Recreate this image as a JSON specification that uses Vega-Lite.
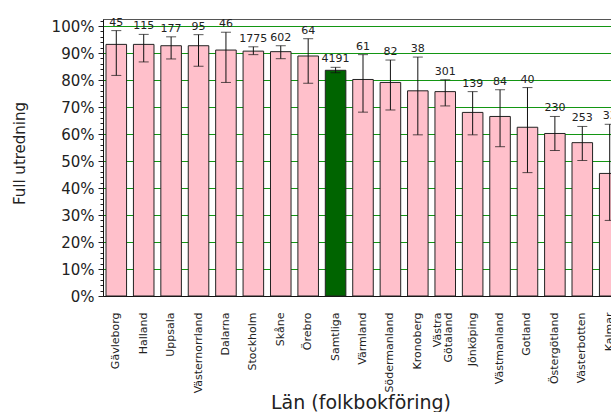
{
  "$schema": "https://vega.github.io/schema/vega-lite/v6.json",
  "autosize": {"type": "none"},
  "padding": {"left": 103, "top": 19, "right": 0, "bottom": 116},
  "width": 520,
  "height": 277,
  "background": "white",
  "config": {"font": "DejaVu Sans", "view": {"stroke": "#555", "strokeWidth": 1}, "axis": {"labelOverlap": false}},
  "resolve": {"axis": {"y": "independent"}},
  "data": {"values": [
    {"lan": "Gävleborg", "grp": "lan", "pct": 93.2, "lo": 81.7, "hi": 98.3, "n": 45},
    {"lan": "Halland", "grp": "lan", "pct": 93.2, "lo": 86.7, "hi": 96.9, "n": 115},
    {"lan": "Uppsala", "grp": "lan", "pct": 92.7, "lo": 87.8, "hi": 96.0, "n": 177},
    {"lan": "Västernorrland", "grp": "lan", "pct": 92.7, "lo": 85.1, "hi": 96.8, "n": 95},
    {"lan": "Dalarna", "grp": "lan", "pct": 91.1, "lo": 79.1, "hi": 97.7, "n": 46},
    {"lan": "Stockholm", "grp": "lan", "pct": 90.7, "lo": 89.4, "hi": 92.3, "n": 1775},
    {"lan": "Skåne", "grp": "lan", "pct": 90.5, "lo": 87.9, "hi": 92.7, "n": 602},
    {"lan": "Örebro", "grp": "lan", "pct": 88.9, "lo": 78.8, "hi": 95.3, "n": 64},
    {"lan": "Samtliga", "grp": "samtliga", "pct": 83.6, "lo": 82.7, "hi": 84.7, "n": 4191},
    {"lan": "Värmland", "grp": "lan", "pct": 80.2, "lo": 68.1, "hi": 89.4, "n": 61},
    {"lan": "Södermanland", "grp": "lan", "pct": 79.1, "lo": 68.9, "hi": 87.4, "n": 82},
    {"lan": "Kronoberg", "grp": "lan", "pct": 76.0, "lo": 59.7, "hi": 88.5, "n": 38},
    {"lan": "Västra Götaland", "grp": "lan", "pct": 75.7, "lo": 70.4, "hi": 80.1, "n": 301},
    {"lan": "Jönköping", "grp": "lan", "pct": 68.0, "lo": 59.7, "hi": 75.7, "n": 139},
    {"lan": "Västmanland", "grp": "lan", "pct": 66.5, "lo": 55.3, "hi": 76.4, "n": 84},
    {"lan": "Gotland", "grp": "lan", "pct": 62.5, "lo": 45.7, "hi": 77.2, "n": 40},
    {"lan": "Östergötland", "grp": "lan", "pct": 60.2, "lo": 53.9, "hi": 66.5, "n": 230},
    {"lan": "Västerbotten", "grp": "lan", "pct": 56.8, "lo": 50.2, "hi": 62.8, "n": 253},
    {"lan": "Kalmar", "grp": "lan", "pct": 45.4, "lo": 28.0, "hi": 63.6, "n": 33}
  ]},
  "encoding": {
    "x": {
      "field": "lan", "type": "nominal", "sort": null,
      "scale": {"paddingInner": 0.25, "paddingOuter": 0.11},
      "axis": {
        "title": "Län (folkbokföring)",
        "labelAngle": 270, "labelAlign": "right", "labelBaseline": "middle",
        "labelFontSize": 11, "labelColor": "#222", "labelPadding": 16,
        "labelExpr": "datum.label == 'Västra Götaland' ? ['Västra', 'Götaland'] : datum.label",
        "labelOffset": {"condition": {"test": "datum.value == 'Västra Götaland'", "value": -7}, "value": 0},
        "labelLineHeight": 11, "labelOverlap": false,
        "ticks": false, "domainColor": "#111",
        "titleFontSize": 19, "titleFontWeight": "normal", "titleColor": "#222",
        "titleX": 257.5, "titleY": 112, "titleAlign": "center", "titleBaseline": "alphabetic"
      }
    }
  },
  "layer": [
    {
      "mark": {"type": "bar", "stroke": "#222", "strokeWidth": 1},
      "encoding": {
        "y": {
          "field": "pct", "type": "quantitative", "title": "Full utredning",
          "scale": {"domain": [0, 102.6], "nice": false, "zero": true},
          "axis": {
            "orient": "left",
            "values": [0,2,4,6,8,10,12,14,16,18,20,22,24,26,28,30,32,34,36,38,40,42,44,46,48,50,52,54,56,58,60,62,64,66,68,70,72,74,76,78,80,82,84,86,88,90,92,94,96,98,100,102],
            "labelExpr": "datum.value % 10 == 0 ? datum.value + '%' : ''",
            "labelFontSize": 15, "labelColor": "#222", "labelPadding": 4, "labelOverlap": false,
            "tickSize": {"condition": {"test": "datum.value % 10 != 0", "value": 3}, "value": 5},
            "tickColor": "#222", "domainColor": "#111",
            "grid": true, "gridColor": "#139613",
            "gridOpacity": {"condition": {"test": "datum.value % 10 != 0 || datum.value == 0", "value": 0}, "value": 1},
            "titleFontSize": 15, "titleFontWeight": "normal", "titleColor": "#222",
            "titleAngle": 270, "titleX": -79, "titleY": 134, "titleAlign": "center", "titleBaseline": "alphabetic"
          }
        },
        "color": {
          "field": "grp", "type": "nominal", "legend": null,
          "scale": {"domain": ["lan", "samtliga"], "range": ["#FFC0CB", "#006400"]}
        }
      }
    },
    {
      "mark": {"type": "rule", "color": "#111", "strokeWidth": 1},
      "encoding": {
        "y": {"field": "lo", "type": "quantitative", "axis": null},
        "y2": {"field": "hi"}
      }
    },
    {
      "mark": {"type": "tick", "color": "#111", "thickness": 1, "size": 10},
      "encoding": {"y": {"field": "lo", "type": "quantitative", "axis": null}}
    },
    {
      "mark": {"type": "tick", "color": "#111", "thickness": 1, "size": 10},
      "encoding": {"y": {"field": "hi", "type": "quantitative", "axis": null}}
    },
    {
      "mark": {"type": "text", "baseline": "alphabetic", "dy": -5, "fontSize": 11, "color": "#222"},
      "encoding": {
        "y": {"field": "hi", "type": "quantitative", "axis": null},
        "text": {"field": "n", "type": "nominal"}
      }
    }
  ]
}
